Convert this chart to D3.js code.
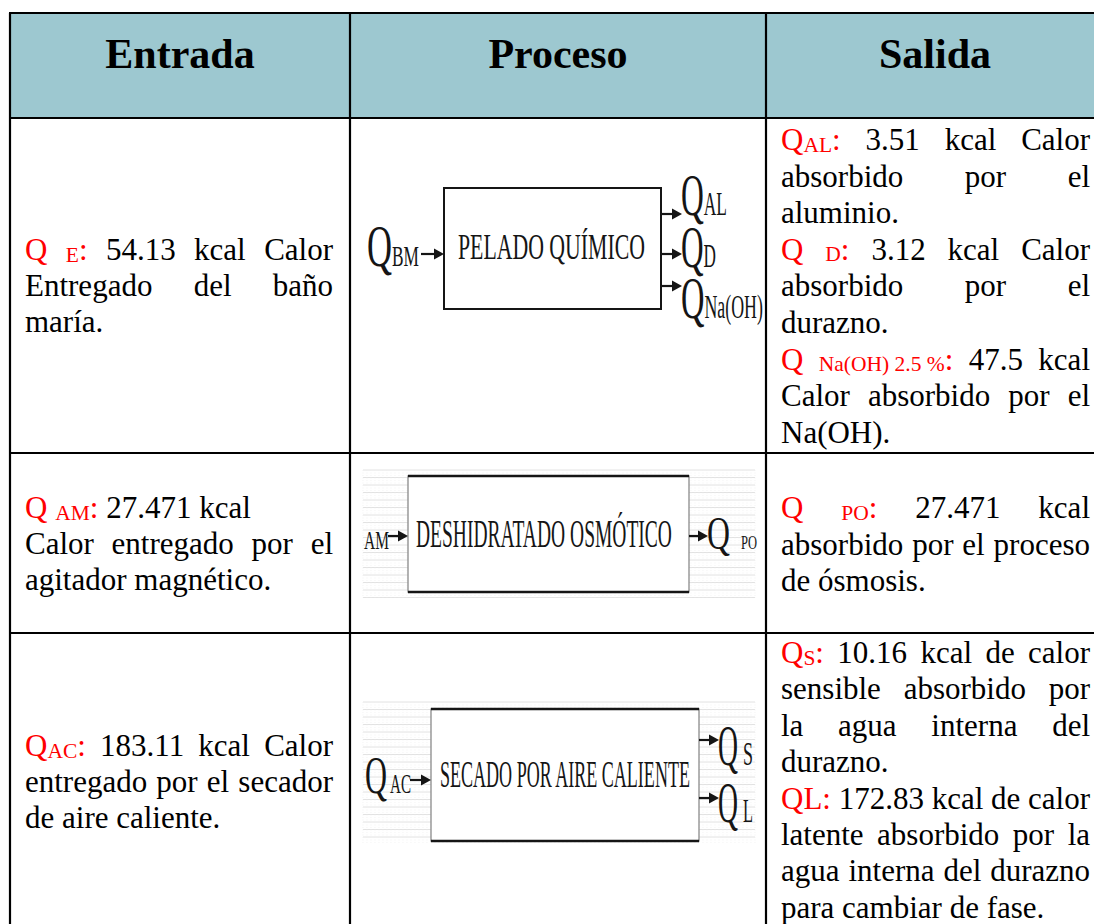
<!DOCTYPE html>
<html><head><meta charset="utf-8">
<script src="https://cdn.jsdelivr.net/npm/d3@7"></script>
<style>html,body{margin:0;padding:0;background:#fff;font-family:'Liberation Serif','Times New Roman',serif;} svg{display:block}</style>
</head><body>
<script>
// ---------- DATA ----------
const headers = ["Entrada", "Proceso", "Salida"];
const entradaValues = ["54.13", "27.471", "183.11"];
const salidaValues = ["3.51", "3.12", "47.5", "27.471", "10.16", "172.83"];

// <r>..</r> red text, <s>..</s> red subscript. j = justified line
const entradaLines = [
  [ {t:`<r>Q</r> <s>E</s><r>:</r> ${entradaValues[0]} kcal Calor`, j:true},
    {t:"Entregado del baño", j:true},
    {t:"maría."} ],
  [ {t:`<r>Q</r> <s>AM</s><r>:</r> ${entradaValues[1]} kcal`},
    {t:"Calor entregado por el", j:true},
    {t:"agitador magnético."} ],
  [ {t:`<r>Q</r><s>AC</s><r>:</r> ${entradaValues[2]} kcal Calor`, j:true},
    {t:"entregado por el secador", j:true},
    {t:"de aire caliente."} ]
];
const salidaLines = [
  [ {t:`<r>Q</r><s>AL</s><r>:</r> ${salidaValues[0]} kcal Calor`, j:true},
    {t:"absorbido por el", j:true},
    {t:"aluminio."},
    {t:`<r>Q</r> <s>D</s><r>:</r> ${salidaValues[1]} kcal Calor`, j:true},
    {t:"absorbido por el", j:true},
    {t:"durazno."},
    {t:`<r>Q</r> <s>Na(OH)\u00a02.5\u00a0%</s><r>:</r> ${salidaValues[2]} kcal`, j:true},
    {t:"Calor absorbido por el", j:true},
    {t:"Na(OH)."} ],
  [ {t:`<r>Q</r> <s>PO</s><r>:</r> ${salidaValues[3]} kcal`, j:true},
    {t:"absorbido por el proceso", j:true},
    {t:"de ósmosis."} ],
  [ {t:`<r>Q</r><s>S</s><r>:</r> ${salidaValues[4]} kcal de calor`, j:true},
    {t:"sensible absorbido por", j:true},
    {t:"la agua interna del", j:true},
    {t:"durazno."},
    {t:`<r>QL:</r> ${salidaValues[5]} kcal de calor`, j:true},
    {t:"latente absorbido por la", j:true},
    {t:"agua interna del durazno", j:true},
    {t:"para cambiar de fase."} ]
];

const procNames = ["PELADO QUÍMICO", "DESHIDRATADO OSMÓTICO", "SECADO POR AIRE CALIENTE"];
const procInputs = [["Q", "BM"], ["", "AM"], ["Q", "AC"]];
const procOutputs = [
  [["Q", "AL"], ["Q", "D"], ["Q", "Na(OH)"]],
  [["Q", "PO"]],
  [["Q", "S"], ["Q", "L"]]
];

// ---------- LAYOUT ----------
const W = 1094, H = 924;
const colEdges = [10, 350, 766, 1104];
const rowEdges = [13, 118, 453, 633, 990];
const serif = "'Liberation Serif', 'Times New Roman', serif";
const bodySize = 31, subSize = 21.5, subShift = 1.5;
const entradaText = {x0: 25, x1: 333, first: [260, 518, 756], step: [36, 36, 36]};
const salidaText = {x0: 781, x1: 1090, first: [150, 518, 663], step: [36.6, 36.5, 36.4]};

const diagLayout = [
  { grid: null, box: [444, 188, 661, 309], full: true,
    title: {x: 458, y: 259, size: 36, w: 187},
    inLbl: {x: 367, y: 266, qs: 60, ss: 30, w: 52}, inArrow: [421, 444, 254],
    outs: [
      {arrow: [661, 682, 214], lbl: {x: 681, y: 215, qs: 60, ss: 33, w: 46}},
      {arrow: [661, 682, 254], lbl: {x: 681, y: 267, qs: 60, ss: 33, w: 35}},
      {arrow: [661, 682, 286], lbl: {x: 681, y: 318, qs: 60, ss: 33, w: 82}}
    ]},
  { grid: [363, 470, 755, 598], box: [408, 476, 689, 592], full: false,
    title: {x: 416, y: 547, size: 40, w: 256},
    inLbl: {x: 364, y: 549, qs: 47, ss: 26, w: 25}, inArrow: [388, 408, 536],
    outs: [
      {arrow: [689, 708, 536], lbl: {x: 707, y: 549, qs: 47, ss: 19, w: 23, gap: 11, sw: 16}}
    ]},
  { grid: [363, 702, 755, 843], box: [431, 709, 699, 841], full: false,
    title: {x: 440, y: 787, size: 38, w: 250},
    inLbl: {x: 365, y: 793, qs: 53, ss: 27, w: 22, gap: 3, sw: 21}, inArrow: [410, 431, 780],
    outs: [
      {arrow: [699, 719, 740], lbl: {x: 718, y: 765, qs: 57, ss: 33, w: 20, gap: 5, sw: 10}},
      {arrow: [699, 719, 798], lbl: {x: 718, y: 822, qs: 57, ss: 33, w: 20, gap: 5, sw: 10}}
    ]}
];

// ---------- DRAW ----------
const svg = d3.select("body").append("svg").attr("width", W).attr("height", H)
  .attr("font-family", serif);

svg.append("rect").attr("x", colEdges[0]).attr("y", rowEdges[0])
  .attr("width", colEdges[3] - colEdges[0]).attr("height", rowEdges[1] - rowEdges[0])
  .attr("fill", "#9dc8d0");

svg.selectAll("text.hdr").data(headers).join("text").attr("class", "hdr")
  .attr("x", (d, i) => (colEdges[i] + colEdges[i + 1]) / 2)
  .attr("y", 68).attr("text-anchor", "middle")
  .attr("font-family", serif)
  .attr("font-size", 42).attr("font-weight", "bold").attr("fill", "#000")
  .text(d => d);

function parseRuns(word) {
  const runs = [];
  const re = /<(r|s)>(.*?)<\/\1>|([^<]+)/g;
  let m;
  while ((m = re.exec(word)) !== null) {
    if (m[3] !== undefined) runs.push({t: m[3], kind: "n"});
    else runs.push({t: m[2], kind: m[1]});
  }
  return runs;
}
function drawLine(g, line, x0, x1, y) {
  const words = line.t.split(" ");
  const items = words.map(w => {
    const t = g.append("text").attr("y", y).attr("font-family", serif)
      .attr("font-size", bodySize).attr("fill", "#000");
    let shift = 0;
    parseRuns(w).forEach(r => {
      const ts = t.append("tspan").text(r.t);
      const target = r.kind === "s" ? subShift : 0;
      if (target !== shift) { ts.attr("dy", target - shift); shift = target; }
      if (r.kind === "r" || r.kind === "s") ts.attr("fill", "#ff0000");
      if (r.kind === "s") ts.attr("font-size", subSize);
    });
    return {t, w: t.node().getComputedTextLength()};
  });
  const total = d3.sum(items, d => d.w);
  const gap = (line.j && items.length > 1) ? (x1 - x0 - total) / (items.length - 1) : bodySize * 0.25;
  let x = x0;
  items.forEach(it => { it.t.attr("x", x); x += it.w + gap; });
}
const gText = svg.append("g");
entradaLines.forEach((lines, r) => {
  lines.forEach((ln, i) => drawLine(gText, ln, entradaText.x0, entradaText.x1, entradaText.first[r] + i * entradaText.step[r]));
});
salidaLines.forEach((lines, r) => {
  lines.forEach((ln, i) => drawLine(gText, ln, salidaText.x0, salidaText.x1, salidaText.first[r] + i * salidaText.step[r]));
});

// diagrams: condensed serif via horizontal scaling
const ink = "#151515";
function condensed(g, runs, x, y, w) {
  const t = g.append("text").attr("x", 0).attr("y", 0).attr("font-family", serif).attr("fill", ink);
  runs.forEach(r => t.append("tspan").attr("font-size", r.size).text(r.t));
  const nat = t.node().getComputedTextLength();
  t.attr("transform", `translate(${x},${y}) scale(${w / nat},1)`);
}
function label(g, pair, L) {
  const [q, s] = pair;
  if (L.gap !== undefined) {
    condensed(g, [{t: q, size: L.qs}], L.x, L.y, L.w);
    condensed(g, [{t: s, size: L.ss}], L.x + L.w + L.gap, L.y, L.sw);
  } else if (!q) {
    condensed(g, [{t: s, size: L.ss}], L.x, L.y, L.w);
  } else {
    condensed(g, [{t: q, size: L.qs}, {t: s, size: L.ss}], L.x, L.y, L.w);
  }
}
function arrow(g, a) {
  const [xa, xb, y] = a;
  g.append("line").attr("x1", xa).attr("x2", xb - 8).attr("y1", y).attr("y2", y)
    .attr("stroke", ink).attr("stroke-width", 2.2);
  g.append("path").attr("d", `M${xb},${y} L${xb - 10},${y - 5.5} L${xb - 10},${y + 5.5} Z`).attr("fill", ink);
}
diagLayout.forEach((L, i) => {
  const g = svg.append("g");
  if (L.grid) {
    const [gx0, gy0, gx1, gy1] = L.grid;
    const hs = d3.range(gy0, gy1 + 0.1, 7.5);
    const vs = d3.range(gx0, gx1 + 0.1, 4);
    g.selectAll("line.h").data(hs).join("line").attr("x1", gx0).attr("x2", gx1)
      .attr("y1", d => d).attr("y2", d => d).attr("stroke", "#dadada").attr("stroke-width", 0.8);
    g.selectAll("line.v").data(vs).join("line").attr("y1", gy0).attr("y2", gy1)
      .attr("x1", d => d).attr("x2", d => d).attr("stroke", "#efefef").attr("stroke-width", 0.7)
      .attr("stroke-dasharray", "1,1.5");
  }
  const [bx0, by0, bx1, by1] = L.box;
  if (L.full) {
    g.append("rect").attr("x", bx0).attr("y", by0).attr("width", bx1 - bx0).attr("height", by1 - by0)
      .attr("fill", "#fff").attr("stroke", ink).attr("stroke-width", 2);
  } else {
    g.append("rect").attr("x", bx0).attr("y", by0).attr("width", bx1 - bx0).attr("height", by1 - by0)
      .attr("fill", "#fff").attr("stroke", "#8a8a8a").attr("stroke-width", 1.3);
    [by0, by1].forEach(yy => g.append("line").attr("x1", bx0).attr("x2", bx1).attr("y1", yy).attr("y2", yy)
      .attr("stroke", ink).attr("stroke-width", 2.6));
  }
  condensed(g, [{t: procNames[i], size: L.title.size}], L.title.x, L.title.y, L.title.w);
  label(g, procInputs[i], L.inLbl);
  arrow(g, L.inArrow);
  L.outs.forEach((o, k) => {
    arrow(g, o.arrow);
    label(g, procOutputs[i][k], o.lbl);
  });
});

// table borders
const gb = svg.append("g").attr("stroke", "#000").attr("stroke-width", 2.2);
gb.selectAll("line.r").data(rowEdges.slice(0, 4)).join("line")
  .attr("x1", colEdges[0] - 1).attr("x2", colEdges[3]).attr("y1", d => d).attr("y2", d => d);
gb.selectAll("line.c").data(colEdges).join("line")
  .attr("x1", d => d).attr("x2", d => d).attr("y1", rowEdges[0]).attr("y2", rowEdges[4]);
</script>
</body></html>
